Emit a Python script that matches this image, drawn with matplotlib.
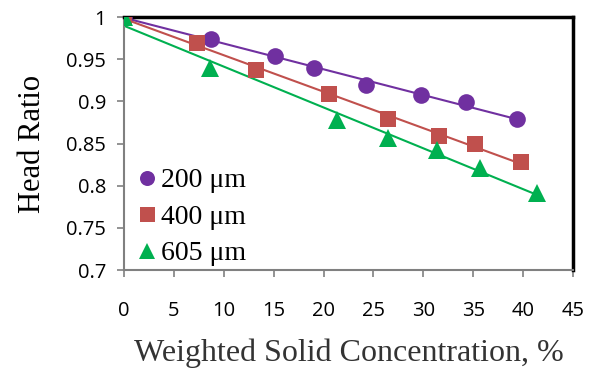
import numpy as np
import matplotlib
matplotlib.use("Agg")
import matplotlib.pyplot as plt

x200 = [0, 8.7, 15.1, 19.0, 24.3, 29.8, 34.3, 39.4]
y200 = [1.0, 0.974, 0.954, 0.939, 0.920, 0.907, 0.899, 0.879]
x400 = [0, 7.3, 13.2, 20.5, 26.5, 31.6, 35.2, 39.8]
y400 = [1.0, 0.969, 0.937, 0.909, 0.879, 0.859, 0.850, 0.828]
x605 = [0, 8.6, 21.3, 26.5, 31.4, 35.7, 41.4]
y605 = [1.0, 0.940, 0.878, 0.857, 0.842, 0.821, 0.791]
labels = ["200 μm", "400 μm", "605 μm"]
colors = ["#7030A0", "#C0504D", "#00B050"]
markers = ["o", "s", "^"]

xticks = [0, 5, 10, 15, 20, 25, 30, 35, 40, 45]
yticks = [0.7, 0.75, 0.8, 0.85, 0.9, 0.95, 1.0]
ytick_labels = ["0.7", "0.75", "0.8", "0.85", "0.9", "0.95", "1"]

fig = plt.figure(figsize=(6.05, 3.70), dpi=100)
ax = fig.add_axes([0.205, 0.270, 0.742, 0.684])

series = [(x200, y200), (x400, y400), (x605, y605)]
for (xs, ys), lab, c, m in zip(series, labels, colors, markers):
    xs = np.array(xs); ys = np.array(ys)
    k, b = np.polyfit(xs, ys, 1)
    xl = np.array([0, xs.max()])
    ax.plot(xl, k * xl + b, color=c, lw=1.5, zorder=2)
    ax.plot(xs, ys, linestyle="none", marker=m, color=c,
            markersize=12 if m != "^" else 12.5,
            markeredgewidth=0, label=lab, zorder=3)

ax.set_xlim(0, 45)
ax.set_ylim(0.7, 1.0)
ax.set_xticks(xticks)
ax.set_xticklabels([str(t) for t in xticks])
ax.set_yticks(yticks)
ax.set_yticklabels(ytick_labels)

for s in ["top", "right"]:
    ax.spines[s].set_color("black")
    ax.spines[s].set_linewidth(2.5)
for s in ["left", "bottom"]:
    ax.spines[s].set_color("#808080")
    ax.spines[s].set_linewidth(1.5)

ax.tick_params(axis="both", direction="out", color="#808080", length=5, width=1.2,
               labelsize=14.5, labelcolor="black")
for lbl in ax.get_xticklabels() + ax.get_yticklabels():
    lbl.set_family(["Open Sans", "DejaVu Sans"])
ax.tick_params(axis="x", pad=17)
ax.tick_params(axis="y", pad=8)

ax.set_xlabel("Weighted Solid Concentration, %", family=["Liberation Serif"],
              fontsize=23, color="#333333", labelpad=13)
ax.set_ylabel("Head Ratio", family=["Liberation Serif"], fontsize=22, labelpad=14)

leg = ax.legend(loc="lower left", bbox_to_anchor=(-0.02, -0.062), frameon=False,
                prop={"family": ["Liberation Serif", "DejaVu Serif"], "size": 20},
                handletextpad=0.05, handlelength=0.9, labelspacing=0.4, markerscale=0.9,
                borderaxespad=0.3)

fig.savefig("out.png", dpi=100)
